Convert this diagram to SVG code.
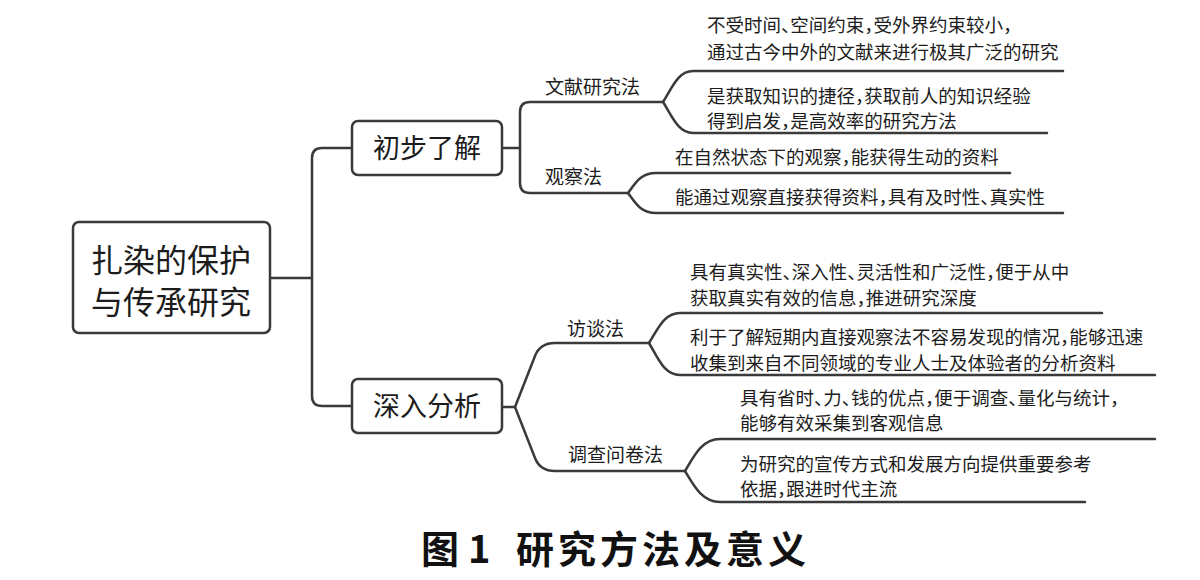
<svg xmlns="http://www.w3.org/2000/svg" width="1200" height="580" viewBox="0 0 1200 580">
<style>
  text { font-family: "Noto Sans CJK SC", "Noto Sans", sans-serif; fill: #1c1c1c; font-feature-settings: "halt"; }
  .box { fill: #ffffff; stroke: #3a3a3a; stroke-width: 2.5; }
  .conn { fill: none; stroke: #3a3a3a; stroke-width: 2.5; stroke-linejoin: round; stroke-linecap: round; }
  .root { font-size: 32px; }
  .mid { font-size: 27px; }
  .lbl { font-size: 19px; }
  .leaf { font-size: 18.5px; }
  .cap { font-size: 38px; font-weight: bold; fill: #111; }
</style>
<rect width="1200" height="580" fill="#ffffff"/>

<g id="connectors">
  <path class="conn" d="M270,278 H312"/>
  <path class="conn" d="M352,148 H322 Q312,148 312,158 V396 Q312,406 322,406 H352"/>
  <path class="conn" d="M502,148 H520"/>
  <path class="conn" d="M663,102 H530 Q520,102 520,112 V183 Q520,193 530,193 H628"/>
  <path class="conn" d="M663,102 C672,88 678,71 693,71 H1063"/>
  <path class="conn" d="M663,102 C672,116 678,133 693,133 H1047"/>
  <path class="conn" d="M628,193 C636,182 641,173 656,173 H1010"/>
  <path class="conn" d="M628,193 C636,204 641,213 656,213 H1063"/>
  <path class="conn" d="M502,407 H515"/>
  <path class="conn" d="M515,407 L535,356 Q540,343 555,343 H649"/>
  <path class="conn" d="M515,407 L535,458 Q540,471 555,471 H685"/>
  <path class="conn" d="M649,343 C658,329 664,313 680,313 H1102"/>
  <path class="conn" d="M649,343 C658,358 664,375 680,375 H1155"/>
  <path class="conn" d="M685,471 C694,456 702,439 720,439 H1155"/>
  <path class="conn" d="M685,471 C694,486 702,502 720,502 H1085"/>
</g>

<g id="root">
  <rect class="box" x="73" y="222" width="197" height="111" rx="6"/>
  <text class="root" x="171" y="272" text-anchor="middle">扎染的保护</text>
  <text class="root" x="171" y="314" text-anchor="middle">与传承研究</text>
</g>

<g id="n-chubu">
  <rect class="box" x="352" y="121" width="150" height="54" rx="6"/>
  <text class="mid" x="427" y="158" text-anchor="middle">初步了解</text>
</g>

<g id="n-shenru">
  <rect class="box" x="352" y="379" width="150" height="54" rx="6"/>
  <text class="mid" x="427" y="416" text-anchor="middle">深入分析</text>
</g>

<g id="l-wenxian"><text class="lbl" x="545" y="94">文献研究法</text></g>
<g id="l-guancha"><text class="lbl" x="545" y="184">观察法</text></g>
<g id="l-fangtan"><text class="lbl" x="567" y="336">访谈法</text></g>
<g id="l-diaocha"><text class="lbl" x="568" y="462">调查问卷法</text></g>

<g id="leaf-wx1">
  <text class="leaf" x="707" y="32">不受时间、空间约束，受外界约束较小，</text>
  <text class="leaf" x="707" y="59">通过古今中外的文献来进行极其广泛的研究</text>
</g>
<g id="leaf-wx2">
  <text class="leaf" x="707" y="103">是获取知识的捷径，获取前人的知识经验</text>
  <text class="leaf" x="707" y="127.5">得到启发，是高效率的研究方法</text>
</g>
<g id="leaf-gc1">
  <text class="leaf" x="675" y="164">在自然状态下的观察，能获得生动的资料</text>
</g>
<g id="leaf-gc2">
  <text class="leaf" x="675" y="204">能通过观察直接获得资料，具有及时性、真实性</text>
</g>
<g id="leaf-ft1">
  <text class="leaf" x="690" y="279">具有真实性、深入性、灵活性和广泛性，便于从中</text>
  <text class="leaf" x="690" y="305">获取真实有效的信息，推进研究深度</text>
</g>
<g id="leaf-ft2">
  <text class="leaf" x="690" y="344">利于了解短期内直接观察法不容易发现的情况，能够迅速</text>
  <text class="leaf" x="690" y="370">收集到来自不同领域的专业人士及体验者的分析资料</text>
</g>
<g id="leaf-dc1">
  <text class="leaf" x="740" y="405">具有省时、力、钱的优点，便于调查、量化与统计，</text>
  <text class="leaf" x="740" y="430">能够有效采集到客观信息</text>
</g>
<g id="leaf-dc2">
  <text class="leaf" x="740" y="471">为研究的宣传方式和发展方向提供重要参考</text>
  <text class="leaf" x="740" y="496">依据，跟进时代主流</text>
</g>

<g id="caption">
  <text class="cap" y="563"><tspan x="421">图</tspan><tspan x="468">1</tspan><tspan x="516" letter-spacing="4">研究方法及意义</tspan></text>
</g>
</svg>
